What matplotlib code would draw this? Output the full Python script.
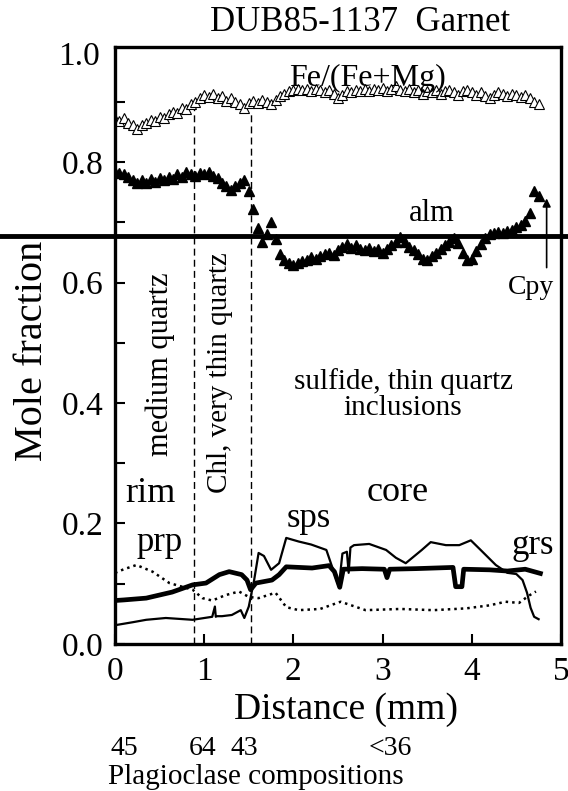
import matplotlib
matplotlib.use("Agg")
from matplotlib import pyplot as plt
from matplotlib.ticker import FormatStrFormatter, MultipleLocator, FixedLocator
import matplotlib.transforms as mtransforms

# Fe/(Fe+Mg) and almandine, read every 0.05 mm along the traverse
dist = [0.00, 0.05, 0.10, 0.15, 0.20, 0.25, 0.30, 0.35, 0.40, 0.45,
        0.50, 0.55, 0.60, 0.65, 0.70, 0.75, 0.80, 0.85, 0.90, 0.95,
        1.00, 1.05, 1.10, 1.15, 1.20, 1.25, 1.30, 1.35, 1.40, 1.45,
        1.50, 1.55, 1.60, 1.65, 1.70, 1.75, 1.80, 1.85, 1.90, 1.95,
        2.00, 2.05, 2.10, 2.15, 2.20, 2.25, 2.30, 2.35, 2.40, 2.45,
        2.50, 2.55, 2.60, 2.65, 2.70, 2.75, 2.80, 2.85, 2.90, 2.95,
        3.00, 3.05, 3.10, 3.15, 3.20, 3.25, 3.30, 3.35, 3.40, 3.45,
        3.50, 3.55, 3.60, 3.65, 3.70, 3.75, 3.80, 3.85, 3.90, 3.95,
        4.00, 4.05, 4.10, 4.15, 4.20, 4.25, 4.30, 4.35, 4.40, 4.45,
        4.50, 4.55, 4.60, 4.65, 4.70, 4.75]
fe_mg = [0.872, 0.868, 0.874, 0.866, 0.862, 0.856, 0.862, 0.866, 0.870, 0.868,
         0.876, 0.874, 0.880, 0.884, 0.882, 0.890, 0.888, 0.896, 0.900, 0.906,
         0.912, 0.908, 0.914, 0.906, 0.910, 0.902, 0.906, 0.900, 0.896, 0.890,
         0.898, 0.902, 0.898, 0.904, 0.900, 0.896, 0.904, 0.910, 0.914, 0.918,
         0.920, 0.922, 0.920, 0.922, 0.918, 0.922, 0.920, 0.916, 0.920, 0.914,
         0.906, 0.912, 0.918, 0.916, 0.920, 0.918, 0.922, 0.918, 0.922, 0.920,
         0.924, 0.918, 0.922, 0.926, 0.920, 0.918, 0.922, 0.916, 0.920, 0.914,
         0.918, 0.916, 0.920, 0.914, 0.918, 0.920, 0.916, 0.912, 0.918, 0.920,
         0.916, 0.912, 0.916, 0.910, 0.906, 0.912, 0.916, 0.914, 0.910, 0.914,
         0.912, 0.908, 0.912, 0.906, 0.900, 0.896]
alm = [0.784, 0.782, 0.780, 0.776, 0.770, 0.766, 0.770, 0.766, 0.772, 0.768,
       0.774, 0.770, 0.776, 0.772, 0.780, 0.776, 0.784, 0.780, 0.778, 0.782,
       0.780, 0.784, 0.778, 0.774, 0.766, 0.760, 0.754, 0.760, 0.766, 0.770,
       0.752, 0.722, 0.690, 0.668, 0.680, 0.700, 0.672, 0.648, 0.638, 0.632,
       0.630, 0.632, 0.636, 0.638, 0.642, 0.640, 0.644, 0.648, 0.650, 0.646,
       0.654, 0.660, 0.664, 0.658, 0.662, 0.656, 0.654, 0.658, 0.652, 0.656,
       0.650, 0.656, 0.662, 0.668, 0.676, 0.668, 0.660, 0.654, 0.648, 0.640,
       0.638, 0.644, 0.650, 0.656, 0.662, 0.668, 0.674, 0.666, 0.650, 0.638,
       0.640, 0.652, 0.664, 0.674, 0.680, 0.682, 0.684, 0.682, 0.686, 0.688,
       0.692, 0.696, 0.702, 0.716, 0.752, 0.744]

# spessartine (thin line)
sps_x = [0.00, 0.20, 0.35, 0.57, 0.87, 1.09, 1.12, 1.13, 1.14, 1.20,
         1.31, 1.41, 1.45, 1.50, 1.56, 1.61, 1.67, 1.75, 1.84, 1.92,
         2.06, 2.20, 2.37, 2.51, 2.55, 2.60, 2.62, 2.64, 2.68, 2.85,
         3.04, 3.15, 3.26, 3.44, 3.54, 3.71, 3.86, 3.99, 4.10, 4.27,
         4.40, 4.50, 4.57, 4.62, 4.66, 4.70, 4.75]
sps_y = [0.031, 0.036, 0.040, 0.043, 0.040, 0.045, 0.062, 0.045, 0.046, 0.046,
         0.048, 0.056, 0.043, 0.062, 0.106, 0.151, 0.146, 0.123, 0.134, 0.176,
         0.170, 0.165, 0.156, 0.095, 0.150, 0.153, 0.118, 0.160, 0.164, 0.166,
         0.156, 0.143, 0.134, 0.156, 0.169, 0.164, 0.164, 0.172, 0.156, 0.131,
         0.118, 0.116, 0.106, 0.085, 0.060, 0.045, 0.041]

# grossular (thick line)
grs_x = [0.00, 0.10, 0.35, 0.64, 0.87, 1.02, 1.17, 1.28, 1.42, 1.48,
         1.52, 1.58, 1.76, 1.84, 1.92, 2.21, 2.40, 2.46, 2.52, 2.56,
         2.77, 3.02, 3.05, 3.08, 3.38, 3.79, 3.82, 3.89, 3.91, 4.20,
         4.40, 4.60, 4.77]
grs_y = [0.072, 0.073, 0.076, 0.086, 0.098, 0.101, 0.115, 0.120, 0.115, 0.106,
         0.090, 0.101, 0.106, 0.115, 0.128, 0.126, 0.130, 0.120, 0.094, 0.124,
         0.125, 0.124, 0.110, 0.124, 0.125, 0.127, 0.095, 0.095, 0.124, 0.123,
         0.121, 0.124, 0.117]

# pyrope (dotted line)
prp_x = [0.00, 0.10, 0.24, 0.42, 0.61, 0.87, 0.98, 1.09, 1.24, 1.39,
         1.50, 1.61, 1.80, 1.92, 2.06, 2.30, 2.53, 2.81, 3.20, 3.57,
         3.94, 4.20, 4.38, 4.53, 4.64, 4.72]
prp_y = [0.118, 0.124, 0.131, 0.120, 0.101, 0.090, 0.076, 0.072, 0.081, 0.087,
         0.078, 0.076, 0.085, 0.061, 0.056, 0.058, 0.070, 0.056, 0.058, 0.056,
         0.059, 0.064, 0.070, 0.068, 0.080, 0.087]

zone_x = [0.89, 1.53]
zone_top = [0.889, 0.882]
plag_x = [0.10, 0.98, 1.45, 3.09]
plag_labels = ["45", "64", "43", "<36"]

plt.rcParams['font.family'] = ['Liberation Serif', 'DejaVu Serif']

fig = plt.figure(figsize=(5.68, 7.91), dpi=100)
ax = fig.add_axes([0.2025, 0.186, 0.785, 0.755])

ax.plot(dist, fe_mg, linestyle='none', marker='^', markersize=6.8,
        markerfacecolor='white', markeredgecolor='black', markeredgewidth=0.8)
ax.plot(dist, alm, linestyle='none', marker='^', markersize=7, color='black')

ax.plot(sps_x, sps_y, color='black', linewidth=1.6)
ax.plot(grs_x, grs_y, color='black', linewidth=3.4)
ax.plot(prp_x, prp_y, color='black', linewidth=1.8, linestyle=(0, (1, 1.6)))

for x, top in zip(zone_x, zone_top):
    ax.plot([x, x], [0, top], color='black', linewidth=1.0, linestyle=(0, (5, 3)))

# heavy horizontal rule running across the whole figure
ax.axhline(0.678, xmin=-0.26, xmax=1.02, color='black', linewidth=3.5, clip_on=False)

ax.set_xlim(0, 5)
ax.set_ylim(0, 0.992)
ax.xaxis.set_major_locator(MultipleLocator(1))
ax.yaxis.set_major_locator(FixedLocator([0.0, 0.2, 0.4, 0.6, 0.8]))
ax.yaxis.set_minor_locator(FixedLocator([0.1, 0.3, 0.5, 0.7, 0.9]))
ax.yaxis.set_major_formatter(FormatStrFormatter('%.1f'))
ax.tick_params(which='both', direction='in', length=7, width=1.5,
               top=False, right=False, labelsize=24)
ax.tick_params(axis='y', pad=8)
ax.tick_params(axis='x', pad=9)
for s in ax.spines.values():
    s.set_linewidth(2.4)
# top label sits just below the frame in the original
ax.text(-0.035, 0.975, '1.0', fontsize=24, ha='right', va='center',
        transform=mtransforms.blended_transform_factory(ax.transAxes, ax.transData))

ax.set_ylabel('Mole fraction', fontsize=29)
ax.yaxis.set_label_coords(-0.143, 0.49)
ax.set_xlabel('Distance (mm)', fontsize=27)
ax.xaxis.set_label_coords(0.518, -0.082)

fig.text(0.634, 0.972, 'DUB85-1137  Garnet', fontsize=25, ha='center', va='center')

ax.text(2.83, 0.94, 'Fe/(Fe+Mg)', fontsize=23, ha='center', va='center')
ax.text(3.55, 0.715, 'alm', fontsize=22, ha='center', va='center')
ax.text(4.66, 0.592, 'Cpy', fontsize=20, ha='center', va='center')
ax.annotate('', xy=(4.84, 0.74), xytext=(4.84, 0.625),
            arrowprops=dict(arrowstyle='-|>', color='black', lw=1.2,
                            mutation_scale=12, shrinkA=0, shrinkB=0))
ax.text(0.51, 0.465, 'medium quartz', fontsize=22, rotation=90,
        ha='center', va='center')
ax.text(1.18, 0.45, 'Chl, very thin quartz', fontsize=21, rotation=90,
        ha='center', va='center')
ax.text(3.23, 0.415, 'sulfide, thin quartz\ninclusions', fontsize=21,
        ha='center', va='center', linespacing=1.0)
ax.text(0.40, 0.236, 'rim', fontsize=26, ha='center', va='baseline')
ax.text(3.17, 0.237, 'core', fontsize=26, ha='center', va='baseline')
ax.text(2.17, 0.194, 'sps', fontsize=25, ha='center', va='baseline')
ax.text(0.50, 0.155, 'prp', fontsize=25, ha='center', va='baseline')
ax.text(4.68, 0.150, 'grs', fontsize=25, ha='center', va='baseline')

trans = mtransforms.blended_transform_factory(ax.transData, ax.transAxes)
for x, lab in zip(plag_x, plag_labels):
    ax.text(x, -0.176, lab, fontsize=20, ha='center', va='center', transform=trans)
ax.text(0.316, -0.223, 'Plagioclase compositions', fontsize=21,
        ha='center', va='center', transform=ax.transAxes)

fig.savefig('out.png', dpi=100)
